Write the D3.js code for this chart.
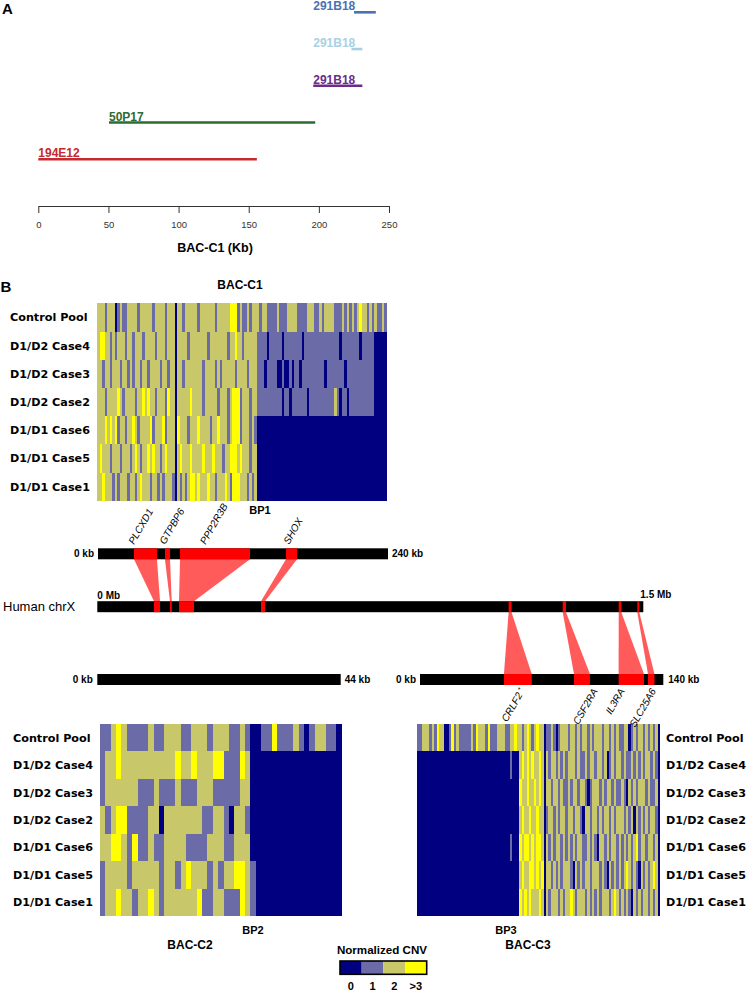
<!DOCTYPE html>
<html><head><meta charset="utf-8">
<script src="https://cdn.jsdelivr.net/npm/d3@7"></script>
<style>body{margin:0;background:#fff}svg{display:block}</style>
</head><body>
<script>
// ---------------- Panel A data ----------------
const cloneNames = ["291B18","291B18","291B18","50P17","194E12"];
const cloneStartKb = [225.1,223.2,196,50.4,0];
const cloneEndKb = [240.6,231,231,197.4,155.8];
const cloneLabelKb = [196,196,196,50.4,0];
const cloneColors = ["#4a72b0","#a9d1e3","#6b2c8a","#2e6b30","#c62a2e"];
const axisTicksKb = [0,50,100,150,200,250];

// ---------------- Heatmap data (CNV level per column) ----------------
const sampleNames = ["Control Pool","D1/D2 Case4","D1/D2 Case3","D1/D2 Case2","D1/D1 Case6","D1/D1 Case5","D1/D1 Case1"];
const cnvLevels = [0,1,2,3];
const cnvLabels = ["0","1","2",">3"];
const cnvColors = ["#000080","#6b6ba8","#c8c86b","#ffff00"];

const cnvBacC1 = [
  ["2221222012","1122221222","2212222122","2022122222","1222222122","2223331211","2122212211","1121112222","1111222112","1222211121","2121232212","121121"],
  ["2332212122","2122122212","2221222122","2022221222","2222122222","2212232212","2222111101","1111011111","1101111111","1111111011","1111101111","100000"],
  ["2212212221","2212122122","1222212212","2022122222","2212222121","2222212222","1222111011","1100100101","1011111111","1011111110","1111111111","100000"],
  ["2221222232","1222212232","3221222132","2022222322","2212222212","2212333122","2122111111","1111011011","1111011111","1111121011","0111111111","100000"],
  ["2223232312","2122321222","2312223122","2032221222","3222212232","2212333122","2121000000","0000000000","0000000000","0000000000","0000000000","000000"],
  ["2322212221","2221232122","3232212322","2023222322","2232223222","1223332322","2122000000","0000000000","0000000000","0000000000","0000000000","000000"],
  ["2232221212","2212212322","2122121222","1021212332","3222322122","2321333222","1212000000","0000000000","0000000000","0000000000","0000000000","000000"]
].map(r => r.join(""));

const cnvBacC2 = [
  ["1123211112","1122211222","1222112100","1131112101","22110"],
  ["1223222222","2222322322","2331113200","0000000000","00000"],
  ["1222222111","2111211122","2111112200","0000000000","00000"],
  ["2123311112","2022222221","1221022100","0000000000","00000"],
  ["2233213112","1122221111","2221122200","0000000000","00000"],
  ["1222212222","2122123222","1212233210","0000000000","00000"],
  ["1223221223","2122222231","1221113210","0000000000","00000"]
].map(r => r.join(""));

const cnvBacC3 = [
  ["1122212132","2001312111","1121322213","1112221122","3221232123","2201121012","2212212122","1212221221","2121122012","1221212120"],
  ["0000000000","0000000000","0000000000","0000000010","00","2323232232","0","2122121212","2212112122","1221201212","2121121212","122121","0"],
  ["0000000000","0000000000","0000000000","0000000000","00","3223223232","0","2212212112","1221221012","2212122121","1210212122","212112","0"],
  ["0000000000","0000000000","0000000000","0000000000","00","2322322322","0","1221212212","2122102212","2121221212","2212120212","121221","0"],
  ["0000000000","0000000000","0000000000","0000000010","00","3233232332","0","2121221212","1212211212","1022121221","2121212312","212212","0"],
  ["0000000000","0000000000","0000000000","0000000000","00","2322332323","0","2212121222","1021212212","2212102121","2123212102","121232","0"],
  ["0000000000","0000000000","0000000000","0000000000","00","3232322232","0","2122212122","3212221212","1212221232","1212102121","221212","0"]
].map(r => r.join(""));

// ---------------- Gene mapping data ----------------
const topGenes = ["PLCXD1","GTPBP6","PPP2R3B","SHOX"];
const topGeneBacKb = [[29.8,48.8],[55.4,59.6],[67.9,125.8],[155.6,164.7]];
const topGeneChrMb = [[0.1558,0.1723],[0.1997,0.2044],[0.2245,0.2657],[0.4497,0.4607]];
const topGeneLabelKb = [29.8,55.4,89,158];
const botGenes = ["CRLF2","CSF2RA","IL3RA","SLC25A6"];
const botGeneBacKb = [[48.3,64.3],[88.6,97.8],[114.3,128.9],[131.2,134.9]];
const botGeneChrMb = [[1.130,1.138],[1.2786,1.2876],[1.4324,1.4396],[1.4835,1.489]];
const botGeneLabelKb = [60.5,102.5,118,136];

// ---------------- Drawing ----------------
const DV = "'DejaVu Sans', sans-serif";
const AR = "'Liberation Sans', Arial, sans-serif";
const svg = d3.select("body").append("svg").attr("width",747).attr("height",991);

function txt(g, x, y, s, size, opts = {}) {
  return g.append("text").attr("x",x).attr("y",y).text(s)
    .attr("font-family", opts.family || DV)
    .attr("font-weight", opts.weight || "bold")
    .attr("font-style", opts.style || "normal")
    .attr("font-size", size)
    .attr("text-anchor", opts.anchor || "start")
    .attr("fill", opts.fill || "#000");
}

// Panel A
txt(svg, 2, 14, "A", 15, {family: AR});
const xA = d3.scaleLinear().domain([0,250]).range([38.3,389]);
const yA = d3.scalePoint().domain(d3.range(cloneNames.length)).range([12.3,159.3]);
const gA = svg.append("g");
cloneNames.forEach((n,i) => {
  gA.append("line").attr("x1",xA(cloneStartKb[i])).attr("x2",xA(cloneEndKb[i]))
    .attr("y1",yA(i)).attr("y2",yA(i)).attr("stroke",cloneColors[i]).attr("stroke-width",2.6);
  txt(gA, xA(cloneLabelKb[i]), yA(i)-2, n, 12, {fill: cloneColors[i], family: AR});
});
const axA = svg.append("g").attr("transform","translate(0,206)")
  .call(d3.axisBottom(xA).tickValues(axisTicksKb).tickSize(7).tickSizeOuter(0).tickPadding(8));
axA.selectAll("path,line").attr("stroke","#333");
axA.selectAll("text").attr("font-family",AR).attr("font-size",9.5).attr("fill","#333");
txt(svg, 215, 252, "BAC-C1 (Kb)", 12.5, {anchor:"middle", family: AR});

// Panel B
txt(svg, 0.5, 292, "B", 15, {family: AR});
const color = d3.scaleOrdinal().domain(cnvLevels).range(cnvColors);

function heatmap(rows, x0, x1, y0, y1, labelX, labelAnchor) {
  const n = rows[0].length;
  const xs = d3.scaleLinear().domain([0,n]).range([x0,x1]);
  const ys = d3.scaleBand().domain(sampleNames).range([y0,y1]);
  const g = svg.append("g");
  rows.forEach((r,ri) => {
    const runs = []; let s = 0;
    for (let i = 1; i <= r.length; i++) {
      if (i === r.length || r[i] !== r[s]) { runs.push({s:s, e:i, v:+r[s]}); s = i; }
    }
    g.append("g").selectAll("rect").data(runs).join("rect")
      .attr("x", d => xs(d.s)).attr("width", d => xs(d.e) - xs(d.s))
      .attr("y", ys(sampleNames[ri])).attr("height", ys.bandwidth())
      .attr("fill", d => color(d.v)).attr("shape-rendering","crispEdges");
  });
  sampleNames.forEach(nm => {
    txt(g, labelX, ys(nm) + ys.bandwidth()/2 + 4, nm, 11.2, {anchor: labelAnchor});
  });
  return {xs, ys};
}

txt(svg, 240, 289, "BAC-C1", 12, {anchor:"middle", family: AR});
heatmap(cnvBacC1, 97.3, 386.7, 303.3, 500.7, 10, "start");
txt(svg, 260, 514, "BP1", 11, {anchor:"middle", family: AR});

heatmap(cnvBacC2, 100, 341.7, 724, 916, 13, "start");
txt(svg, 253, 934, "BP2", 11, {anchor:"middle", family: AR});
txt(svg, 190, 948.5, "BAC-C2", 12, {anchor:"middle", family: AR});

heatmap(cnvBacC3, 417.3, 660, 724, 916, 666, "start");
txt(svg, 506, 934, "BP3", 11, {anchor:"middle", family: AR});
txt(svg, 528, 948.5, "BAC-C3", 12, {anchor:"middle", family: AR});

// Chromosome maps
const xTop = d3.scaleLinear().domain([0,240]).range([98,388]);
const xChr = d3.scaleLinear().domain([0,1.5]).range([97.3,643.3]);
const xC2 = d3.scaleLinear().domain([0,44]).range([97.3,340.7]);
const xC3 = d3.scaleLinear().domain([0,140]).range([420,663.3]);
const barH = 11;
const yTop = 548.3, yChr = 601.2, yBot = 674;
const gM = svg.append("g");
const POLY = "#ff5b5b", SEG = "#ff0000";

topGenes.forEach((gname,i) => {
  const [a,b] = topGeneBacKb[i], [c,d] = topGeneChrMb[i];
  gM.append("polygon").attr("fill",POLY).attr("points",
    [[xTop(a),yTop+barH],[xTop(b),yTop+barH],[xChr(d),yChr],[xChr(c),yChr]].map(p=>p.join(",")).join(" "));
});
botGenes.forEach((gname,i) => {
  const [a,b] = botGeneBacKb[i], [c,d] = botGeneChrMb[i];
  gM.append("polygon").attr("fill",POLY).attr("points",
    [[xChr(c),yChr+barH],[xChr(d),yChr+barH],[xC3(b),yBot],[xC3(a),yBot]].map(p=>p.join(",")).join(" "));
});

function bar(xs, y) {
  const [d0,d1] = xs.domain();
  gM.append("rect").attr("x",xs(d0)).attr("width",xs(d1)-xs(d0)).attr("y",y).attr("height",barH).attr("fill","#000");
}
bar(xTop, yTop); bar(xChr, yChr); bar(xC2, yBot); bar(xC3, yBot);

function segs(xs, y, ranges) {
  ranges.forEach(([a,b]) => gM.append("rect").attr("x",xs(a)).attr("width",xs(b)-xs(a))
    .attr("y",y).attr("height",barH).attr("fill",SEG));
}
segs(xTop, yTop, topGeneBacKb);
segs(xChr, yChr, topGeneChrMb);
segs(xChr, yChr, botGeneChrMb);
segs(xC3, yBot, botGeneBacKb);

const kbOpts = {family: AR};
txt(gM, xTop(0)-4, yTop+9, "0 kb", 10, {family:AR, anchor:"end"});
txt(gM, xTop(240)+4, yTop+9, "240 kb", 10, kbOpts);
txt(gM, xChr(0), yChr-2, "0 Mb", 10, kbOpts);
txt(gM, xChr(1.5)-3, yChr-3.5, "1.5 Mb", 10, kbOpts);
txt(gM, xC2(0)-4.5, yBot+9, "0 kb", 10, {family:AR, anchor:"end"});
txt(gM, xC2(44)+4, yBot+9, "44 kb", 10, kbOpts);
txt(gM, xC3(0)-4, yBot+9, "0 kb", 10, {family:AR, anchor:"end"});
txt(gM, xC3(140)+5, yBot+9, "140 kb", 10, kbOpts);
txt(gM, 3, yChr+9.5, "Human chrX", 13, {family:AR, weight:"normal"});

topGenes.forEach((gname,i) => {
  gM.append("text").attr("transform",`translate(${xTop(topGeneLabelKb[i])},545) rotate(-60)`)
    .attr("font-family",AR).attr("font-style","italic").attr("font-size",10).text(gname);
});
botGenes.forEach((gname,i) => {
  const t = gM.append("text").attr("transform",`translate(${xC3(botGeneLabelKb[i])},691) rotate(-60)`)
    .attr("font-family",AR).attr("font-style","italic").attr("font-size",10).attr("text-anchor","end");
  t.append("tspan").text(gname);
  if (gname === "CRLF2") t.append("tspan").attr("font-size",7).attr("dy",-3).text(" *");
});

// Legend
const gL = svg.append("g");
txt(gL, 382, 954, "Normalized CNV", 11.6, {anchor:"middle", family: AR});
const xL = d3.scaleBand().domain(cnvLevels).range([340,426.7]);
gL.selectAll("rect.c").data(cnvLevels).join("rect").attr("class","c")
  .attr("x",d=>xL(d)).attr("width",xL.bandwidth()).attr("y",961).attr("height",13.3).attr("fill",d=>color(d));
gL.append("rect").attr("x",340).attr("y",961).attr("width",86.7).attr("height",13.3)
  .attr("fill","none").attr("stroke","#000").attr("stroke-width",1.6);
cnvLevels.forEach((v,i) => txt(gL, xL(v)+xL.bandwidth()/2, 990, cnvLabels[i], 11, {anchor:"middle", family: AR}));
</script>
</body></html>
